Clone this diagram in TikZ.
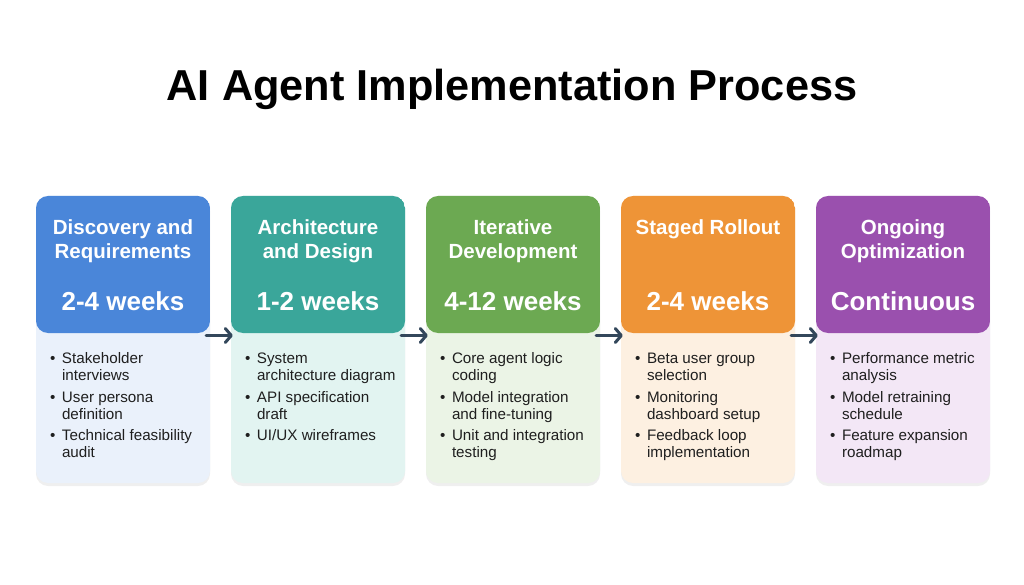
\documentclass[tikz,border=0pt]{standalone}
\usepackage{fontspec}
\setmainfont{Liberation Sans}
\usetikzlibrary{positioning, arrows.meta, shadows}

\definecolor{inkdark}{HTML}{1F1F1F}
\definecolor{arrowgray}{HTML}{33475B}
\definecolor{hdblue}{HTML}{4A86D9}
\definecolor{bdblue}{HTML}{EAF1FB}
\definecolor{hdteal}{HTML}{3AA69A}
\definecolor{bdteal}{HTML}{E2F4F1}
\definecolor{hdgreen}{HTML}{6CA952}
\definecolor{bdgreen}{HTML}{EBF4E6}
\definecolor{hdorange}{HTML}{EE9437}
\definecolor{bdorange}{HTML}{FDF0E1}
\definecolor{hdpurple}{HTML}{9A50AE}
\definecolor{bdpurple}{HTML}{F3E7F6}

\newcommand{\bul}[1]{\makebox[12pt][l]{•}\begin{tabular}[t]{@{}l@{}}#1\end{tabular}}

\tikzset{
  card/.style 2 args={draw=none, fill=#2, rounded corners=12pt,
    minimum width=174pt, minimum height=287pt, inner sep=0pt,
    drop shadow={opacity=0.12, shadow xshift=0pt, shadow yshift=-3pt},
    path picture={\fill[#1] (path picture bounding box.north west) rectangle
      ([yshift=-137pt]path picture bounding box.east |- path picture bounding box.north);}},
  phase/.style={text=white, font=\fontsize{20.5}{24}\selectfont\bfseries, align=center},
  span/.style={text=white, font=\fontsize{26}{30}\selectfont\bfseries},
  item/.style={text=inkdark, font=\fontsize{15.2}{17}\selectfont, inner sep=0pt},
  flow/.style={draw=arrowgray, line width=3pt, line cap=round,
    -{Straight Barb[length=6pt,width=14pt,line cap=round,line join=round]}}
}

\begin{document}
\begin{tikzpicture}[x=1pt, y=-1pt]

\useasboundingbox[fill=white] (0,0) rectangle (1024,585);

% title
\node[font=\fontsize{43.3}{50}\selectfont\bfseries, text=black] (title) at (512,89)
  {AI Agent Implementation Process};

% cards
\node[card={hdblue}{bdblue}]     (c1) at (123,339.5) {};
\node[card={hdteal}{bdteal}]     (c2) at (318,339.5) {};
\node[card={hdgreen}{bdgreen}]   (c3) at (513,339.5) {};
\node[card={hdorange}{bdorange}] (c4) at (708,339.5) {};
\node[card={hdpurple}{bdpurple}] (c5) at (903,339.5) {};

% headers
\node[phase] (p1) at (123,241) {Discovery and\\Requirements};
\node[phase] (p2) at (318,241) {Architecture\\and Design};
\node[phase] (p3) at (513,241) {Iterative\\Development};
\node[phase] (p4) at (708,229) {Staged Rollout};
\node[phase] (p5) at (903,241) {Ongoing\\Optimization};

\node[span] (s1) at (123,301) {2-4 weeks};
\node[span] (s2) at (318,301) {1-2 weeks};
\node[span] (s3) at (513,301) {4-12 weeks};
\node[span] (s4) at (708,301) {2-4 weeks};
\node[span] (s5) at (903,301) {Continuous};

% bullet items
\foreach \c/\ia/\ib/\ic in {
  c1/{Stakeholder\\interviews}/{User persona\\definition}/{Technical feasibility\\audit},
  c2/{System\\architecture diagram}/{API specification\\draft}/{UI/UX wireframes},
  c3/{Core agent logic\\coding}/{Model integration\\and fine-tuning}/{Unit and integration\\testing},
  c4/{Beta user group\\selection}/{Monitoring\\dashboard setup}/{Feedback loop\\implementation},
  c5/{Performance metric\\analysis}/{Model retraining\\schedule}/{Feature expansion\\roadmap}}{
  \node[item, anchor=north west] (\c-a) at ([xshift=14pt,yshift=-156pt]\c.north west) {\bul{\ia}};
  \node[item, below=4pt of \c-a.south west, anchor=north west] (\c-b) {\bul{\ib}};
  \node[item, below=4pt of \c-b.south west, anchor=north west] (\c-c) {\bul{\ic}};
}

% arrows
\foreach \a/\b in {c1/c2, c2/c3, c3/c4, c4/c5}
  \draw[flow] ([xshift=-4pt,yshift=4pt]\a.east) -- ([xshift=2pt,yshift=4pt]\b.west);

\end{tikzpicture}
\end{document}
